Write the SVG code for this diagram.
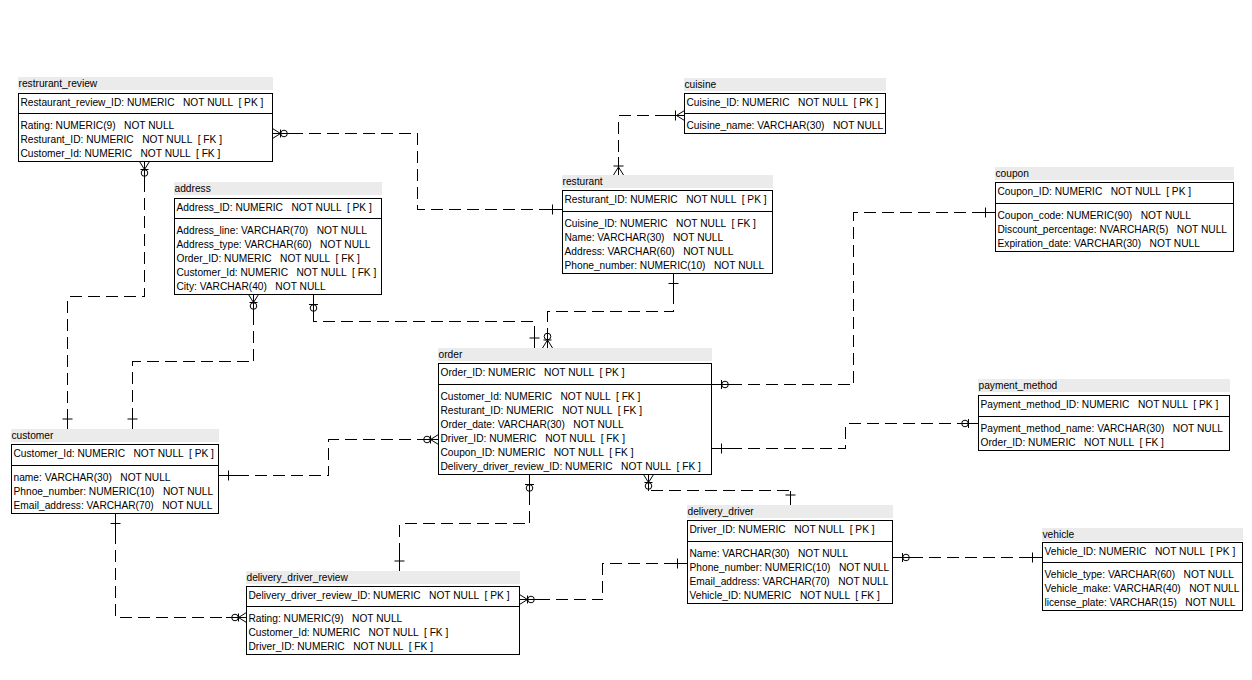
<svg xmlns="http://www.w3.org/2000/svg" xmlns:xlink="http://www.w3.org/1999/xlink" width="1252" height="680" viewBox="0 0 1252 680">
<style>
  text { font-family: "Liberation Sans", Arial, sans-serif; font-size: 10.2px; fill: #000; white-space: pre; }
  .hdr { fill: #ebebeb; stroke: none; }
  .box { fill: #fff; stroke: #000; stroke-width: 1; shape-rendering: crispEdges; }
  .sep { stroke: #000; stroke-width: 1; shape-rendering: crispEdges; }
  .dash { fill: none; stroke: #000; stroke-width: 1; stroke-dasharray: 12 6; shape-rendering: crispEdges; }
  .solid { fill: none; stroke: #000; stroke-width: 1; shape-rendering: crispEdges; }
  .sym { fill: none; stroke: #000; stroke-width: 1; }
</style>
<defs>
  <g id="one"><line class="sym" x1="10" y1="-5" x2="10" y2="5"/></g>
  <g id="zo"><line class="sym" x1="10" y1="-4.5" x2="10" y2="4.5"/><circle class="sym" cx="13.5" cy="0" r="3.3"/></g>
  <g id="zm"><path class="sym" d="M0,-5 L8,0 L0,5"/><line class="sym" x1="8" y1="-4" x2="8" y2="4"/><circle class="sym" cx="11.5" cy="0" r="3.3"/></g>
  <g id="om"><path class="sym" d="M0,-5 L8,0 L0,5"/><line class="sym" x1="9" y1="-5" x2="9" y2="5"/></g>
</defs>
<rect width="1252" height="680" fill="#fff"/>

<g id="connectors">
  <!-- restrurant_review -> resturant -->
  <path class="dash" d="M272.5,133.5 H417.5 V209.5 H562.5"/>
  <path class="solid" d="M272.5,133.5 H292 M562.5,209.5 H543"/>
  <use xlink:href="#zm" transform="translate(272.5,133.5)"/>
  <use xlink:href="#one" transform="translate(562.5,209.5) rotate(180)"/>
  <!-- cuisine -> resturant -->
  <path class="dash" d="M684.5,115.5 H618.5 V175"/>
  <path class="solid" d="M684.5,115.5 H666 M618.5,175 V157"/>
  <use xlink:href="#om" transform="translate(684.5,115.5) rotate(180)"/>
  <use xlink:href="#om" transform="translate(618.5,175) rotate(-90)"/>
  <!-- resturant -> order -->
  <path class="dash" d="M673.5,273.5 V311.5 H547.5 V348"/>
  <path class="solid" d="M673.5,273.5 V293 M547.5,348 V328"/>
  <use xlink:href="#one" transform="translate(673.5,273.5) rotate(90)"/>
  <use xlink:href="#zm" transform="translate(547.5,348) rotate(-90)"/>
  <!-- address -> order -->
  <path class="dash" d="M313.5,294.5 V321.5 H534.5 V348"/>
  <path class="solid" d="M313.5,294.5 V314 M534.5,348 V329"/>
  <use xlink:href="#zo" transform="translate(313.5,294.5) rotate(90)"/>
  <use xlink:href="#one" transform="translate(534.5,348) rotate(-90)"/>
  <!-- address -> customer -->
  <path class="dash" d="M253.5,294.5 V361.5 H132.5 V429"/>
  <path class="solid" d="M253.5,294.5 V314 M132.5,429 V410"/>
  <use xlink:href="#zm" transform="translate(253.5,294.5) rotate(90)"/>
  <use xlink:href="#one" transform="translate(132.5,429) rotate(-90)"/>
  <!-- restrurant_review -> customer -->
  <path class="dash" d="M144.5,161.5 V296.5 H67.5 V429"/>
  <path class="solid" d="M144.5,161.5 V181 M67.5,429 V410"/>
  <use xlink:href="#zm" transform="translate(144.5,161.5) rotate(90)"/>
  <use xlink:href="#one" transform="translate(67.5,429) rotate(-90)"/>
  <!-- customer -> order -->
  <path class="dash" d="M218.5,475.5 H328.5 V439.5 H438.5"/>
  <path class="solid" d="M218.5,475.5 H238 M438.5,439.5 H418"/>
  <use xlink:href="#one" transform="translate(218.5,475.5)"/>
  <use xlink:href="#zm" transform="translate(438.5,439.5) rotate(180)"/>
  <!-- order -> coupon -->
  <path class="dash" d="M711.5,384.5 H853.5 V212.5 H995.5"/>
  <path class="solid" d="M711.5,384.5 H732 M995.5,212.5 H976"/>
  <use xlink:href="#zo" transform="translate(711.5,384.5)"/>
  <use xlink:href="#one" transform="translate(995.5,212.5) rotate(180)"/>
  <!-- order -> payment_method -->
  <path class="dash" d="M711.5,448.5 H845.5 V423.5 H978.5"/>
  <path class="solid" d="M711.5,448.5 H731 M978.5,423.5 H958"/>
  <use xlink:href="#one" transform="translate(711.5,448.5)"/>
  <use xlink:href="#zo" transform="translate(978.5,423.5) rotate(180)"/>
  <!-- order -> delivery_driver_review -->
  <path class="dash" d="M529.5,474.5 V523.5 H399.5 V571"/>
  <path class="solid" d="M529.5,474.5 V495 M399.5,571 V552"/>
  <use xlink:href="#zo" transform="translate(529.5,474.5) rotate(90)"/>
  <use xlink:href="#one" transform="translate(399.5,571) rotate(-90)"/>
  <!-- order -> delivery_driver -->
  <path class="dash" d="M648.5,474.5 V490.5 H790.5 V505"/>
  <path class="solid" d="M648.5,474.5 V490.5 M790.5,505 V490.5"/>
  <use xlink:href="#zm" transform="translate(648.5,474.5) rotate(90)"/>
  <use xlink:href="#one" transform="translate(790.5,505) rotate(-90)"/>
  <!-- customer -> delivery_driver_review -->
  <path class="dash" d="M115.5,513.5 V617.5 H246.5"/>
  <path class="solid" d="M115.5,513.5 V532 M246.5,617.5 H226"/>
  <use xlink:href="#one" transform="translate(115.5,513.5) rotate(90)"/>
  <use xlink:href="#zm" transform="translate(246.5,617.5) rotate(180)"/>
  <!-- delivery_driver_review -> delivery_driver -->
  <path class="dash" d="M519.5,599.5 H602.5 V563.5 H687.5"/>
  <path class="solid" d="M519.5,599.5 H539 M687.5,563.5 H667"/>
  <use xlink:href="#zm" transform="translate(519.5,599.5)"/>
  <use xlink:href="#one" transform="translate(687.5,563.5) rotate(180)"/>
  <!-- delivery_driver -> vehicle -->
  <path class="dash" d="M892.5,557.5 H1042.5"/>
  <path class="solid" d="M892.5,557.5 H913 M1042.5,557.5 H1022"/>
  <use xlink:href="#zo" transform="translate(892.5,557.5)"/>
  <use xlink:href="#one" transform="translate(1042.5,557.5) rotate(180)"/>
</g>

<g id="restrurant_review">
  <rect class="hdr" x="18" y="77" width="255" height="13"/>
  <text x="18.5" y="87">restrurant_review</text>
  <rect class="box" x="18.5" y="93.5" width="254" height="68"/>
  <line class="sep" x1="18.5" y1="113.5" x2="272.5" y2="113.5"/>
  <text x="20.5" y="106">Restaurant_review_ID: NUMERIC   NOT NULL  [ PK ]</text>
  <text x="20.5" y="128.5">Rating: NUMERIC(9)   NOT NULL</text>
  <text x="20.5" y="142.5">Resturant_ID: NUMERIC   NOT NULL  [ FK ]</text>
  <text x="20.5" y="156.5">Customer_Id: NUMERIC   NOT NULL  [ FK ]</text>
</g>

<g id="address">
  <rect class="hdr" x="174" y="182" width="208" height="13"/>
  <text x="174.5" y="192">address</text>
  <rect class="box" x="174.5" y="198.5" width="207" height="96"/>
  <line class="sep" x1="174.5" y1="218.5" x2="381.5" y2="218.5"/>
  <text x="176.5" y="211">Address_ID: NUMERIC   NOT NULL  [ PK ]</text>
  <text x="176.5" y="233.5">Address_line: VARCHAR(70)   NOT NULL</text>
  <text x="176.5" y="247.5">Address_type: VARCHAR(60)   NOT NULL</text>
  <text x="176.5" y="261.5">Order_ID: NUMERIC   NOT NULL  [ FK ]</text>
  <text x="176.5" y="275.5">Customer_Id: NUMERIC   NOT NULL  [ FK ]</text>
  <text x="176.5" y="289.5">City: VARCHAR(40)   NOT NULL</text>
</g>

<g id="cuisine">
  <rect class="hdr" x="684" y="78" width="202" height="13"/>
  <text x="684.5" y="88">cuisine</text>
  <rect class="box" x="684.5" y="93.5" width="201" height="40"/>
  <line class="sep" x1="684.5" y1="113.5" x2="885.5" y2="113.5"/>
  <text x="686.5" y="106">Cuisine_ID: NUMERIC   NOT NULL  [ PK ]</text>
  <text x="686.5" y="128.5">Cuisine_name: VARCHAR(30)   NOT NULL</text>
</g>

<g id="resturant">
  <rect class="hdr" x="562" y="175" width="211" height="13"/>
  <text x="562.5" y="185">resturant</text>
  <rect class="box" x="562.5" y="190.5" width="210" height="83"/>
  <line class="sep" x1="562.5" y1="211.5" x2="772.5" y2="211.5"/>
  <text x="564.5" y="203">Resturant_ID: NUMERIC   NOT NULL  [ PK ]</text>
  <text x="564.5" y="226.5">Cuisine_ID: NUMERIC   NOT NULL  [ FK ]</text>
  <text x="564.5" y="240.5">Name: VARCHAR(30)   NOT NULL</text>
  <text x="564.5" y="254.5">Address: VARCHAR(60)   NOT NULL</text>
  <text x="564.5" y="268.5">Phone_number: NUMERIC(10)   NOT NULL</text>
</g>

<g id="coupon">
  <rect class="hdr" x="995" y="167" width="239" height="13"/>
  <text x="995.5" y="177">coupon</text>
  <rect class="box" x="995.5" y="182.5" width="238" height="69"/>
  <line class="sep" x1="995.5" y1="203.5" x2="1233.5" y2="203.5"/>
  <text x="997.5" y="195">Coupon_ID: NUMERIC   NOT NULL  [ PK ]</text>
  <text x="997.5" y="218.5">Coupon_code: NUMERIC(90)   NOT NULL</text>
  <text x="997.5" y="232.5">Discount_percentage: NVARCHAR(5)   NOT NULL</text>
  <text x="997.5" y="246.5">Expiration_date: VARCHAR(30)   NOT NULL</text>
</g>

<g id="order">
  <rect class="hdr" x="438" y="348" width="274" height="13"/>
  <text x="438.5" y="358">order</text>
  <rect class="box" x="438.5" y="363.5" width="273" height="111"/>
  <line class="sep" x1="438.5" y1="384.5" x2="711.5" y2="384.5"/>
  <text x="440.5" y="376">Order_ID: NUMERIC   NOT NULL  [ PK ]</text>
  <text x="440.5" y="399.5">Customer_Id: NUMERIC   NOT NULL  [ FK ]</text>
  <text x="440.5" y="413.5">Resturant_ID: NUMERIC   NOT NULL  [ FK ]</text>
  <text x="440.5" y="427.5">Order_date: VARCHAR(30)   NOT NULL</text>
  <text x="440.5" y="441.5">Driver_ID: NUMERIC   NOT NULL  [ FK ]</text>
  <text x="440.5" y="455.5">Coupon_ID: NUMERIC   NOT NULL  [ FK ]</text>
  <text x="440.5" y="469.5">Delivery_driver_review_ID: NUMERIC   NOT NULL  [ FK ]</text>
</g>

<g id="payment_method">
  <rect class="hdr" x="978" y="379" width="252" height="13"/>
  <text x="978.5" y="389">payment_method</text>
  <rect class="box" x="978.5" y="395.5" width="251" height="55"/>
  <line class="sep" x1="978.5" y1="416.5" x2="1229.5" y2="416.5"/>
  <text x="980.5" y="408">Payment_method_ID: NUMERIC   NOT NULL  [ PK ]</text>
  <text x="980.5" y="431.5">Payment_method_name: VARCHAR(30)   NOT NULL</text>
  <text x="980.5" y="445.5">Order_ID: NUMERIC   NOT NULL  [ FK ]</text>
</g>

<g id="customer">
  <rect class="hdr" x="11" y="429" width="208" height="13"/>
  <text x="11.5" y="439">customer</text>
  <rect class="box" x="11.5" y="444.5" width="207" height="69"/>
  <line class="sep" x1="11.5" y1="465.5" x2="218.5" y2="465.5"/>
  <text x="13.5" y="457">Customer_Id: NUMERIC   NOT NULL  [ PK ]</text>
  <text x="13.5" y="480.5">name: VARCHAR(30)   NOT NULL</text>
  <text x="13.5" y="494.5">Phnoe_number: NUMERIC(10)   NOT NULL</text>
  <text x="13.5" y="508.5">Email_address: VARCHAR(70)   NOT NULL</text>
</g>

<g id="delivery_driver_review">
  <rect class="hdr" x="246" y="571" width="274" height="13"/>
  <text x="246.5" y="581">delivery_driver_review</text>
  <rect class="box" x="246.5" y="586.5" width="273" height="68"/>
  <line class="sep" x1="246.5" y1="606.5" x2="519.5" y2="606.5"/>
  <text x="248.5" y="599">Delivery_driver_review_ID: NUMERIC   NOT NULL  [ PK ]</text>
  <text x="248.5" y="621.5">Rating: NUMERIC(9)   NOT NULL</text>
  <text x="248.5" y="635.5">Customer_Id: NUMERIC   NOT NULL  [ FK ]</text>
  <text x="248.5" y="649.5">Driver_ID: NUMERIC   NOT NULL  [ FK ]</text>
</g>

<g id="delivery_driver">
  <rect class="hdr" x="687" y="505" width="206" height="13"/>
  <text x="687.5" y="515">delivery_driver</text>
  <rect class="box" x="687.5" y="520.5" width="205" height="83"/>
  <line class="sep" x1="687.5" y1="541.5" x2="892.5" y2="541.5"/>
  <text x="689.5" y="533">Driver_ID: NUMERIC   NOT NULL  [ PK ]</text>
  <text x="689.5" y="556.5">Name: VARCHAR(30)   NOT NULL</text>
  <text x="689.5" y="570.5">Phone_number: NUMERIC(10)   NOT NULL</text>
  <text x="689.5" y="584.5">Email_address: VARCHAR(70)   NOT NULL</text>
  <text x="689.5" y="598.5">Vehicle_ID: NUMERIC   NOT NULL  [ FK ]</text>
</g>

<g id="vehicle">
  <rect class="hdr" x="1042" y="528" width="201" height="13"/>
  <text x="1042.5" y="538">vehicle</text>
  <rect class="box" x="1042.5" y="542.5" width="200" height="68"/>
  <line class="sep" x1="1042.5" y1="562.5" x2="1242.5" y2="562.5"/>
  <text x="1044.5" y="555">Vehicle_ID: NUMERIC   NOT NULL  [ PK ]</text>
  <text x="1044.5" y="577.5">Vehicle_type: VARCHAR(60)   NOT NULL</text>
  <text x="1044.5" y="591.5">Vehicle_make: VARCHAR(40)   NOT NULL</text>
  <text x="1044.5" y="605.5">license_plate: VARCHAR(15)   NOT NULL</text>
</g>
</svg>
